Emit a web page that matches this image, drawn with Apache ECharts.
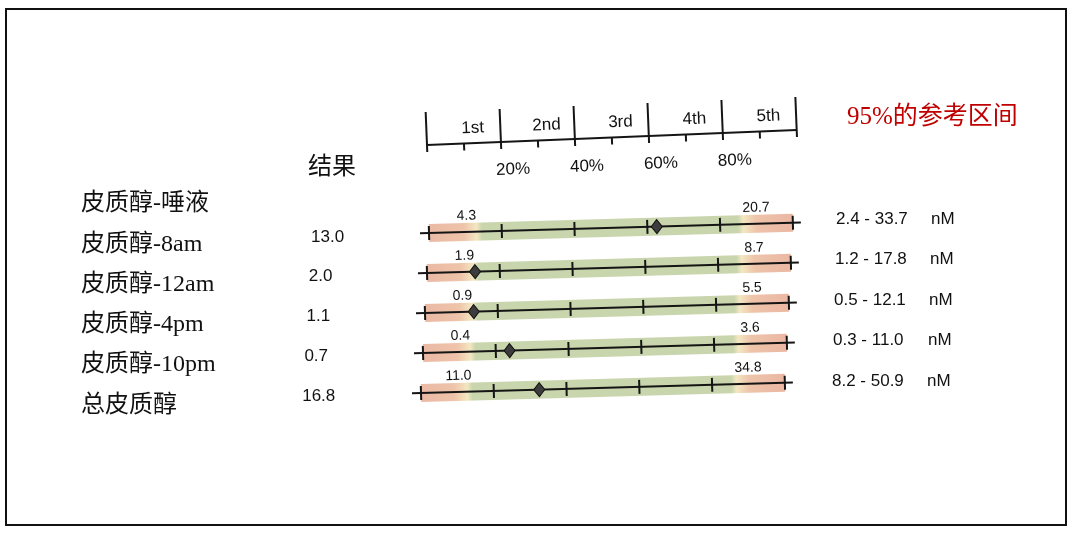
<!DOCTYPE html>
<html>
<head>
<meta charset="utf-8">
<script src="https://cdn.jsdelivr.net/npm/echarts@6/dist/echarts.min.js"></script>
<style>
    html, body {margin: 0; padding: 0; background: #fff;}
    #chart {width: 1075px; height: 534px;}
</style>
</head>
<body>
<div id="chart"></div>
<script>
const testNames = ['皮质醇-唾液', '皮质醇-8am', '皮质醇-12am', '皮质醇-4pm', '皮质醇-10pm', '总皮质醇'];
const results = ['13.0', '2.0', '1.1', '0.7', '16.8'];
const refRanges = ['2.4 - 33.7', '1.2 - 17.8', '0.5 - 12.1', '0.3 - 11.0', '8.2 - 50.9'];
const unit = 'nM';
const lowLabels = ['4.3', '1.9', '0.9', '0.4', '11.0'];
const highLabels = ['20.7', '8.7', '5.5', '3.6', '34.8'];
// where each result diamond sits on the percentile scale
const markerPct = [62.6, 13.2, 13.4, 23.8, 32.5];
// green part of each bar, in percentile
const greenFrom = [14.6, 14.3, 14.4, 14.5, 14.2];
const greenTo = [84.9, 85.0, 85.0, 85.2, 85.2];
const quintiles = ['1st', '2nd', '3rd', '4th', '5th'];
const pctTicks = [20, 40, 60, 80];
const majorTicks = [0, 20, 40, 60, 80, 100];
const minorTicks = [10, 30, 50, 70, 90];

const SANS = '"Liberation Sans", Arial, sans-serif';
const CJK = '"Liberation Serif", "Noto Sans CJK SC", serif';

function renderRow (params, api) {
    let i = api.value(0);
    let p0 = api.coord([0, i]);
    let lx = pct => api.coord([pct, i])[0] - p0[0];
    let w = lx(100);
    let g0 = greenFrom[i] / 100, g1 = greenTo[i] / 100;
    let children = [{
        type: 'rect',
        shape: {x: 0, y: -9, width: w, height: 18},
        style: {
            fill: new echarts.graphic.LinearGradient(0, 0, 1, 0, [
                {offset: 0, color: '#ebb9a4'},
                {offset: g0 - 0.05, color: '#eec4aa'},
                {offset: g0 - 0.015, color: '#f3e7c2'},
                {offset: g0, color: '#c8d5ad'},
                {offset: g1, color: '#c8d5ad'},
                {offset: g1 + 0.015, color: '#f3e7c2'},
                {offset: g1 + 0.05, color: '#eec4aa'},
                {offset: 1, color: '#ebb7a3'}
            ])
        }
    }, {
        type: 'line',
        shape: {x1: -9, y1: 0, x2: w + 8, y2: 0},
        style: {stroke: '#151515', lineWidth: 2}
    }];
    majorTicks.forEach(t => {
        children.push({
            type: 'line',
            shape: {x1: lx(t), y1: -7, x2: lx(t), y2: 7},
            style: {stroke: '#151515', lineWidth: 2}
        });
    });
    let mx = lx(markerPct[i]);
    children.push({
        type: 'polygon',
        shape: {points: [[mx, -7], [mx + 5.5, 0], [mx, 7], [mx - 5.5, 0]]},
        style: {fill: '#3c3c3c', stroke: '#111', lineWidth: 1}
    });
    children.push({
        type: 'text', x: lx(10.4), y: -16,
        style: {text: lowLabels[i], font: '14px ' + SANS, fill: '#111', align: 'center', verticalAlign: 'middle'}
    });
    children.push({
        type: 'text', x: lx(90), y: -16,
        style: {text: highLabels[i], font: '14px ' + SANS, fill: '#111', align: 'center', verticalAlign: 'middle'}
    });
    return {
        type: 'group',
        x: p0[0] - 2 * i,
        y: p0[1],
        rotation: 0.028,
        children
    };
}

function renderHeader (params, api) {
    let p0 = api.coord([0, 0]);
    let lx = pct => api.coord([pct, 0])[0] - p0[0];
    let children = [{
        type: 'line',
        shape: {x1: 0, y1: 0, x2: lx(100), y2: 0},
        style: {stroke: '#151515', lineWidth: 2}
    }];
    majorTicks.forEach(t => {
        children.push({
            type: 'line',
            shape: {x1: lx(t), y1: -33, x2: lx(t), y2: 7},
            style: {stroke: '#151515', lineWidth: 2}
        });
    });
    minorTicks.forEach(t => {
        children.push({
            type: 'line',
            shape: {x1: lx(t), y1: 0, x2: lx(t), y2: 7},
            style: {stroke: '#151515', lineWidth: 2}
        });
    });
    quintiles.forEach((q, k) => {
        children.push({
            type: 'text', x: lx(k * 20 + 12.5), y: -15,
            style: {text: q, font: '17px ' + SANS, fill: '#111', align: 'center', verticalAlign: 'middle'}
        });
    });
    pctTicks.forEach(t => {
        children.push({
            type: 'text', x: lx(t) + 11, y: 28,
            style: {text: t + '%', font: '17px ' + SANS, fill: '#111', align: 'center', verticalAlign: 'middle'}
        });
    });
    return {
        type: 'group',
        x: p0[0],
        y: p0[1],
        rotation: 0.0405,
        children
    };
}

let graphics = [{
    type: 'rect',
    shape: {x: 6, y: 9, width: 1060, height: 516},
    style: {fill: 'none', stroke: '#111', lineWidth: 2}
}, {
    type: 'text', x: 847, y: 117,
    style: {text: '95%的参考区间', font: '25px ' + CJK, fill: '#c00000', verticalAlign: 'middle'}
}, {
    type: 'text', x: 308, y: 168,
    style: {text: '结果', font: '24px ' + CJK, fill: '#111', verticalAlign: 'middle'}
}];
testNames.forEach((name, i) => {
    graphics.push({
        type: 'text', x: 81, y: 204 + 40.3 * i,
        style: {text: name, font: '24px ' + CJK, fill: '#111', verticalAlign: 'middle'}
    });
});
results.forEach((v, i) => {
    graphics.push({
        type: 'text', x: 311 - 2.2 * i, y: 237 + 39.8 * i,
        style: {text: v, font: '17px ' + SANS, fill: '#111', verticalAlign: 'middle'}
    });
});
refRanges.forEach((r, i) => {
    graphics.push({
        type: 'text', x: 836 - i, y: 219 + 40.5 * i,
        style: {text: r, font: '17px ' + SANS, fill: '#111', verticalAlign: 'middle'}
    });
    graphics.push({
        type: 'text', x: 931 - i, y: 219 + 40.5 * i,
        style: {text: unit, font: '17px ' + SANS, fill: '#111', verticalAlign: 'middle'}
    });
});

const chart = echarts.init(document.getElementById('chart'));
chart.setOption({
    animation: false,
    grid: [
        {left: 429, right: 282, top: 213, height: 200},
        {left: 427, right: 278, top: 135, height: 10}
    ],
    xAxis: [
        {gridIndex: 0, type: 'value', min: 0, max: 100, show: false},
        {gridIndex: 1, type: 'value', min: 0, max: 100, show: false}
    ],
    yAxis: [
        {gridIndex: 0, type: 'category', inverse: true, data: results.map((v, i) => i), show: false},
        {gridIndex: 1, type: 'value', min: 0, max: 1, show: false}
    ],
    graphic: graphics,
    series: [{
        type: 'custom',
        name: 'rows',
        xAxisIndex: 0,
        yAxisIndex: 0,
        clip: false,
        renderItem: renderRow,
        data: results.map((v, i) => [i])
    }, {
        type: 'custom',
        name: 'header',
        xAxisIndex: 1,
        yAxisIndex: 1,
        clip: false,
        renderItem: renderHeader,
        data: [[0]]
    }]
});
</script>
</body>
</html>
